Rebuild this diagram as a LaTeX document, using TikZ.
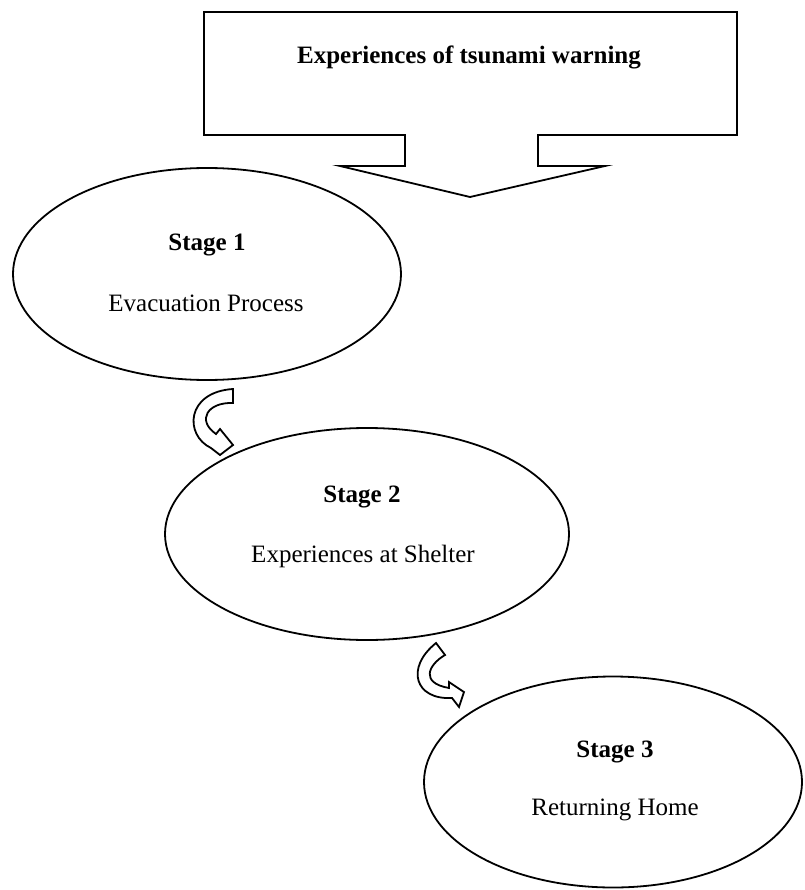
\documentclass[tikz,border=0pt]{standalone}
\usepackage{fontspec}
\setmainfont{Liberation Serif}
\usetikzlibrary{shapes.geometric}
\begin{document}
\begin{tikzpicture}[x=1pt,y=-1pt,
  outline/.style={draw=black,line width=1.8pt,line join=miter},
  stageshape/.style={ellipse,draw=black,line width=1.8pt,inner sep=0pt},
  headtxt/.style={font=\fontsize{25}{30}\selectfont\bfseries,inner sep=0pt},
  bodytxt/.style={font=\fontsize{25}{30}\selectfont,inner sep=0pt}]
\useasboundingbox (0,0) rectangle (804,890);
% callout box with down arrow
\draw[outline] (204,12) -- (737,12) -- (737,135) -- (538,135) -- (538,166) -- (605,166)
  -- (470,197) -- (340,166) -- (405,166) -- (405,135) -- (204,135) -- cycle;
\node[headtxt] (title) at (469,57) {Experiences of tsunami warning};
% stage ellipses
\node[stageshape,minimum width=388pt,minimum height=212pt] (s1) at (207,274) {};
\node[stageshape,minimum width=404pt,minimum height=212pt] (s2) at (367,534) {};
\node[stageshape,minimum width=378pt,minimum height=211pt] (s3) at (613,782) {};
\node[headtxt] (s1h) at (207,245) {Stage 1};
\node[bodytxt] (s1b) at (206,303) {Evacuation Process};
\node[headtxt] (s2h) at (362,497) {Stage 2};
\node[bodytxt] (s2b) at (363,556) {Experiences at Shelter};
\node[headtxt] (s3h) at (615,752) {Stage 3};
\node[bodytxt] (s3b) at (615,810) {Returning Home};
% curved arrows
\draw[outline,fill=white] (233,389) -- (233,403) .. controls (208,402) and (196,420) .. (216,434)
  -- (220,429) -- (233,445) -- (220,455) -- (211,448)
  .. controls (184,435) and (186,392) .. (233,389) -- cycle;
\draw[outline,fill=white] (436,643) -- (445,655) .. controls (428,665) and (420,683) .. (449,688)
  -- (449,682) -- (464,692) -- (459,707) -- (452,698)
  .. controls (415,700) and (405,668) .. (436,643) -- cycle;
\end{tikzpicture}
\end{document}
